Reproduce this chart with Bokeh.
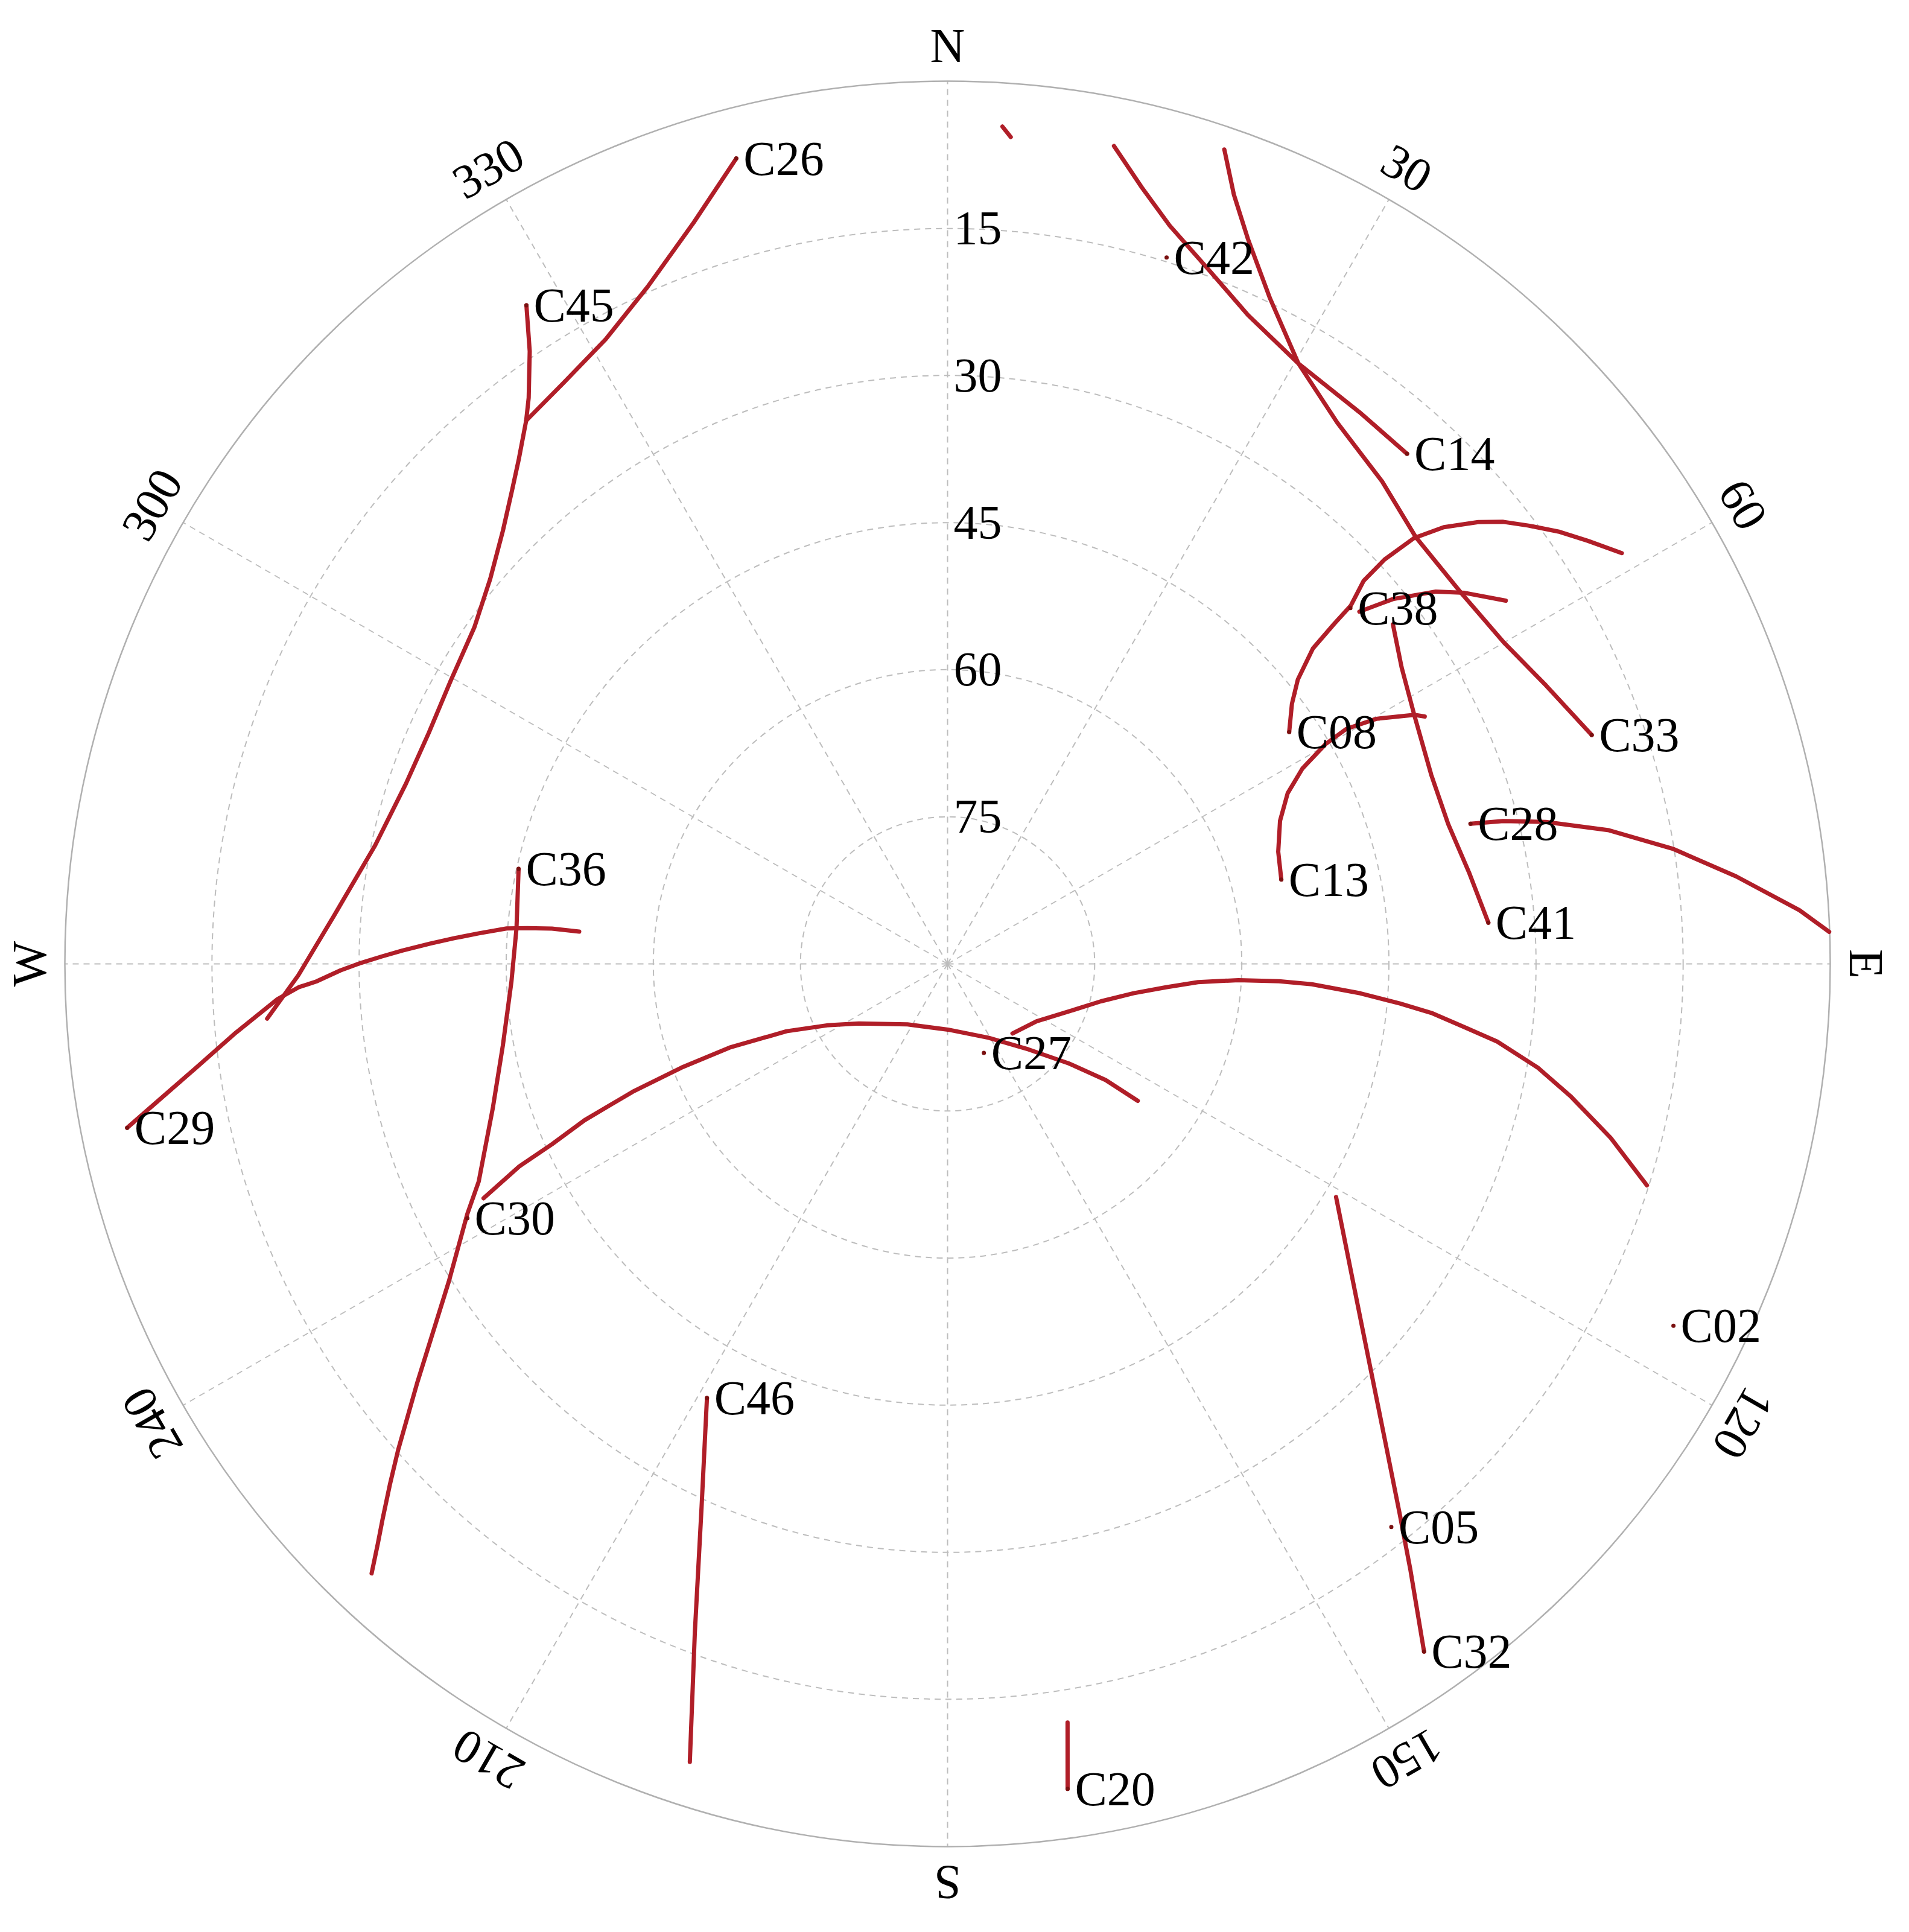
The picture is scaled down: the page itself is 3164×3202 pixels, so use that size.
import numpy as np
from bokeh.plotting import figure
from bokeh.models import Range1d
from bokeh.core.properties import value
from bokeh.embed import file_html
from bokeh.resources import INLINE

# ---------------- data (azimuth deg, elevation deg) ----------------
C26_az = [345.3, 341.1, 336.1, 331.3, 326.5, 322.2]
C26_el = [5.1, 10.1, 14.5, 17.4, 19.0, 19.9]

C45_az = [327.4, 325.7, 323.5, 322.2, 319.63, 317.4, 314.26, 310.09, 305.4, 299.6, 294.0, 288.4, 281.7, 274.4, 269.0, 265.4]
C45_el = [10.3, 14.4, 18.2, 19.9, 22.5, 24.4, 26.7, 29.05, 30.8, 31.7, 32.1, 31.8, 30.4, 27.2, 23.8, 20.4]

C36_az = [282.5, 274.7, 267.7, 259.6, 252.5, 245.1, 242.5, 237.5, 231.7, 228.5, 226.96, 225.53, 224.49, 223.38]
C36_el = [45.2, 45.9, 45.5, 43.9, 41.4, 37.3, 34.8, 29.7, 21.1, 15.2, 12.2, 9.3, 7.1, 4.5]

C29_az = [258.7, 262.06, 264.48, 267.0, 267.94, 268.4, 269.39, 270.1, 270.75, 271.4, 272.25, 273.0, 273.73, 274.6, 274.86, 275.1, 275.0]
C29_el = [4.7, 12.5, 17.1, 21.6, 23.8, 25.6, 28.1, 30.2, 32.3, 34.4, 37.2, 39.7, 42.1, 44.9, 47.0, 49.5, 52.3]

C30_az = [243.2, 244.7, 245.5, 246.7, 247.9, 248.7, 249.0, 247.3, 243.0, 236.1, 213.5, 179.7, 151.05, 136.6, 129.37, 126.3, 125.76]
C30_el = [37.0, 41.7, 45.7, 49.7, 55.35, 60.9, 66.2, 72.2, 76.2, 79.1, 82.6, 83.3, 81.4, 78.0, 74.0, 70.0, 66.1]

C27_az = [136.98, 122.8, 111.34, 103.7, 98.97, 96.1, 94.17, 93.2, 93.0, 93.2, 94.08, 95.0, 95.82, 97.0, 98.04, 99.97, 101.97, 104.7, 107.57]
C27_el = [80.3, 79.2, 76.7, 73.9, 70.8, 67.6, 64.4, 60.3, 56.15, 52.8, 47.8, 43.7, 40.3, 36.85, 33.4, 28.9, 25.1, 20.1, 15.2]

C46_az = [209.0, 204.4, 200.7, 197.9]
C46_el = [39.4, 29.3, 17.1, 4.5]

C32_az = [145.28, 142.61, 140.58, 137.54, 131.01, 120.97]
C32_el = [4.7, 12.3, 17.4, 23.87, 34.07, 43.8]

C20_az = [171.72, 171.01]
C20_el = [5.0, 11.7]

C14_az = [42.01, 36.75, 30.30, 24.85, 20.64, 16.75, 14.05, 11.50]
C14_el = [20.0, 19.8, 19.1, 17.1, 14.4, 11.4, 8.4, 4.9]

C33_az = [70.44, 65.05, 59.96, 54.18, 47.62, 42.01, 35.75, 30.30, 25.85, 22.51, 20.41, 18.77]
C33_el = [20.3, 22.7, 24.5, 25.4, 25.4, 23.8, 22.0, 19.1, 14.6, 10.0, 6.3, 2.3]

C08_az = [55.83, 52.94, 50.93, 49.20, 48.67, 48.38, 47.37, 47.22, 47.61, 48.65, 50.22, 51.50, 52.97, 54.71, 56.55, 58.65]
C08_el = [47.9, 46.0, 44.0, 40.8, 37.5, 35.0, 32.35, 29.3, 25.6, 22.6, 19.6, 17.6, 15.8, 13.7, 11.75, 9.5]

C38_az = [49.46, 50.68, 52.67, 54.35, 56.95]
C38_el = [34.75, 31.3, 27.4, 25.1, 22.1]

C13_az = [75.81, 71.27, 66.73, 63.35, 61.17, 59.82, 59.49, 60.25, 61.92, 62.60]
C13_el = [54.9, 54.4, 53.1, 51.2, 48.7, 45.4, 42.8, 39.65, 36.05, 35.2]

C41_az = [85.64, 80.16, 74.40, 68.66, 62.07, 56.83, 52.68]
C41_el = [34.7, 36.0, 37.0, 37.05, 36.1, 34.7, 32.9]

C28_az = [75.0, 75.58, 76.65, 78.58, 80.97, 83.67, 86.40, 87.92]
C28_el = [34.8, 31.5, 27.3, 21.2, 15.15, 9.1, 2.96, 0.05]

X01_az = [3.75, 4.37]
X01_el = [4.45, 5.45]

# satellite markers with labels
sat_names = ["C26", "C45", "C42", "C14", "C38", "C08", "C13", "C28", "C41", "C33",
             "C36", "C29", "C30", "C27", "C46", "C05", "C32", "C02", "C20"]
sat_az = [345.3, 327.4, 17.23, 42.01, 48.55, 55.83, 75.81, 75.0, 85.64, 70.44,
          282.5, 258.7, 242.1, 157.8, 209.0, 141.76, 145.28, 116.50, 171.72]
sat_el = [5.1, 10.3, 14.6, 20.0, 35.2, 47.9, 54.9, 34.8, 34.7, 20.3,
          45.2, 4.7, 34.6, 80.2, 39.4, 16.9, 4.7, 7.3, 5.0]

ring_el = [15, 30, 45, 60, 75]
ring_labels = ["15", "30", "45", "60", "75"]
dir_az = [0, 30, 60, 90, 120, 150, 180, 210, 240, 270, 300, 330]
dir_labels = ["N", "30", "60", "E", "120", "150", "S", "210", "240", "W", "300", "330"]

tracks = [
    (C26_az, C26_el), (C45_az, C45_el), (C36_az, C36_el), (C29_az, C29_el),
    (C30_az, C30_el), (C27_az, C27_el), (C46_az, C46_el), (C32_az, C32_el),
    (C20_az, C20_el), (C14_az, C14_el), (C33_az, C33_el), (C08_az, C08_el),
    (C38_az, C38_el), (C13_az, C13_el), (C41_az, C41_el), (C28_az, C28_el),
    (X01_az, X01_el),
]


def to_xy(az, el):
    z = 90.0 - np.asarray(el, dtype=float)
    a = np.radians(np.asarray(az, dtype=float))
    return z * np.sin(a), z * np.cos(a)


FONT = value("Liberation Serif")
FS = "80px"
TRACK_COLOR = "#B01E28"
GRID_COLOR = "#bdbdbd"

W, H = 3148, 3186
S = 1463.0 / 90.0          # px per degree of zenith distance
CX, CY = 1570, 1597        # centre inside the canvas

p = figure(width=W, height=H,
           x_range=Range1d(-CX / S, (W - CX) / S),
           y_range=Range1d(-(H - CY) / S, CY / S),
           output_backend="svg", toolbar_location=None, min_border=0,
           x_axis_location=None, y_axis_location=None, title=None)
p.grid.visible = False
p.outline_line_color = None
p.background_fill_color = "white"
p.border_fill_color = "white"

# spokes
sa = np.radians(dir_az)
p.segment(x0=0, y0=0, x1=90 * np.sin(sa), y1=90 * np.cos(sa),
          line_color=GRID_COLOR, line_width=2, line_dash="10 8")
# elevation rings
p.circle(x=[0] * len(ring_el), y=[0] * len(ring_el), radius=[90 - e for e in ring_el],
         fill_color=None, line_color=GRID_COLOR, line_width=2, line_dash="10 8")
# horizon
p.circle(x=[0], y=[0], radius=[90], fill_color=None, line_color="#b0b0b0", line_width=2.5)

# tracks
for az, el in tracks:
    x, y = to_xy(az, el)
    p.line(x, y, line_color=TRACK_COLOR, line_width=7, line_cap="round", line_join="round")

# satellite markers + labels
sx, sy = to_xy(sat_az, sat_el)
p.scatter(sx, sy, size=7, fill_color="#7a1010", line_color=None)
p.text(x=sx, y=sy, text=sat_names, text_font=FONT, text_font_size=FS,
       text_align="left", text_baseline="middle", x_offset=12, text_color="black")

# elevation labels
p.text(x=[0] * len(ring_el), y=[90 - e for e in ring_el], text=ring_labels,
       text_font=FONT, text_font_size=FS, text_align="left", text_baseline="middle",
       x_offset=10, text_color="black")

# direction labels (rotated tangentially)
rl = 1522.0 / S
p.text(x=rl * np.sin(sa), y=rl * np.cos(sa), text=dir_labels, angle=-sa,
       text_font=FONT, text_font_size=FS, text_align="center", text_baseline="middle",
       text_color="black")

open("out.html", "w").write(file_html(p, INLINE))
